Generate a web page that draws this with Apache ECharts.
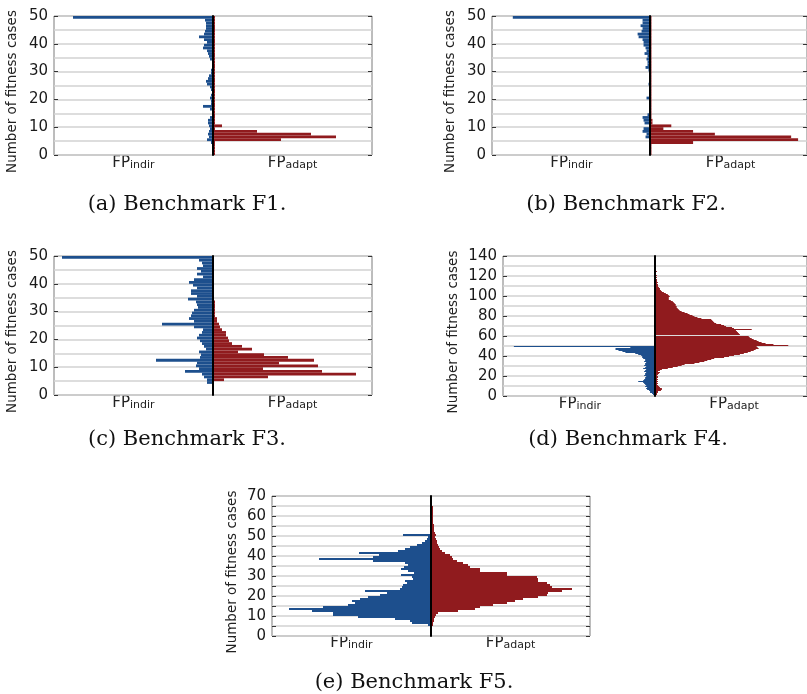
<!DOCTYPE html>
<html>
<head>
<meta charset="utf-8">
<script src="https://cdn.jsdelivr.net/npm/echarts@6/dist/echarts.min.js"></script>
<style>
body{margin:0;background:#fff;}
#main{width:807px;height:694px;}
</style>
</head>
<body>
<div id="main"></div>
<script>
//---------bar lengths per bin (bin k = [k, k+1]), FP_indir left / FP_adapt right-------
var indirF1 = [0,0,0,0,2,6,4,5,4,3, 4,5,5,3,1,0,3,10,2,2, 3,2,0,2,3,6,7,5,4,2, 2,0,1,0,3,4,5,6,10,9, 6,9,14,9,8,7,7,7,8,140];
var adaptF1 = [2,2,2,2,2,68,123,98,44,2, 9,2,2,2,2,2,2,2,2,2, 2,2,2,2,2,2,2,2,2,2, 2,2,2,2,2,2,2,2,2,2, 2,2,2,2,2,2,2,2,2,2];

var indirF2 = [0,0,0,0,0,0,4,3,7,6, 0,5,6,7,2,0,0,0,0,0, 3,0,0,0,0,1,0,0,0,0, 1,4,2,2,3,2,5,3,4,6, 6,7,11,12,8,7,9,7,7,138];
var adaptF2 = [2,2,2,2,44,150,143,66,44,14, 22,3,3,2,2,2,2,2,2,2, 2,2,2,2,2,2,2,2,2,2, 2,2,2,2,2,2,2,2,2,2, 2,2,2,2,2,2,2,2,2,2];

var indirF3 = [0,0,0,0,6,6,9,11,28,14, 17,16,57,13,12,14,7,9,11,13, 16,14,11,10,19,51,19,24,22,21, 19,15,16,17,25,16,22,22,16,20, 24,19,10,16,12,16,10,11,14,151];
var adaptF3 = [1,1,1,1,1,11,55,143,109,50, 105,66,101,75,51,25,39,29,19,16, 15,13,13,9,7,6,4,4,2,2, 2,2,2,2,1,1,1,1,1,1, 1,1,1,1,1,1,1,1,1,1];

var indirF4 = [1,2,3,5,5,6,8,9,8,10, 9,10,11,12,17,12,11,10,10,9, 11,10,10,9,11,10,9,12,10,9, 11,10,10,9,11,10,10,12,13,13, 14,17,20,30,33,37,40,40,25,143];
var adaptF4 = [1,2,2,3,3,6,7,7,5,4, 3,2,3,2,3,2,3,2,3,3, 2,3,4,5,3,5,7,13,18,23,
  27,30,40,45,50,53,57,60,70,75, 80,86,90,94,97,100,102,105,104,103,
  135,120,112,108,105,103,100,98,96,95, 0,86,85,84,83,82,98,80,78,72,
  70,67,62,60,59,58,57,47,43,40, 38,35,33,30,27,25,24,23,22,22,
  21,21,20,19,18,16,14,14,14,15, 14,13,11,9,7,6,5,5,4,3,
  3,3,2,3,2,2,2,1,2,1, 2,1,1,1,2,1,1,1,1,1, 0,0,0,0,0,0,0,0,0,0];

var indirF5 = [0,0,0,0,0,3,19,21,36,73, 98,98,119,142,108,83,76,79,71,63, 51,44,66,31,29,28,24,26,18,19,
  30,17,23,30,27,23,26,58,112,58, 52,72,33,26,21,14,9,6,4,3, 28,0,0,0,0,0,0,0,0,0, 0,0,0,0,0,0,0,0,0,0];
var adaptF5 = [1,1,1,1,1,2,2,3,3,4, 5,7,27,44,49,62,76,84,92,107, 116,117,131,141,121,119,116,107,107,106,
  76,76,49,49,39,37,32,26,22,21, 19,14,11,9,8,7,6,6,5,4, 5,4,3,3,3,3,2,2,2,2, 2,2,2,2,2,1,1,1,1,1];

var indirData = [indirF1, indirF2, indirF3, indirF4, indirF5];
var adaptData = [adaptF1, adaptF2, adaptF3, adaptF4, adaptF5];
var yMaxes = [50, 50, 50, 140, 70];
var yLabelSteps = [10, 10, 10, 20, 10];
var captions = ['(a) Benchmark F1.', '(b) Benchmark F2.', '(c) Benchmark F3.', '(d) Benchmark F4.', '(e) Benchmark F5.'];

//---------panel placement-------
var layout = [
	{left: 54,  top: 16,  half: 159, h: 139, nameGap: 35, capX: 187, capY: 205, fpY: 157, minor: false},
	{left: 492, top: 16,  half: 159, h: 139, nameGap: 35, capX: 626, capY: 205, fpY: 157, minor: false},
	{left: 54,  top: 256, half: 159, h: 139, nameGap: 35, capX: 187, capY: 440, fpY: 397, minor: false},
	{left: 503, top: 256, half: 154, h: 140, nameGap: 43, capX: 628, capY: 440, fpY: 398, minor: false},
	{left: 272, top: 496, half: 159, h: 140, nameGap: 33, capX: 414, capY: 683, fpY: 637, minor: true}
];

var blueColor = '#1d4f8d';
var redColor = '#901b1e';
var gridColor = '#d2d2d2';
var sans = 'DejaVu Sans';

var grids = [], xAxes = [], yAxes = [], series = [], graphics = [];

function fpLabel(x, y, sub){
	return {
		type: 'text', x: x, y: y, silent: true,
		style: {
			text: '{m|FP}{s|' + sub + '}',
			align: 'center', verticalAlign: 'top', fill: '#222',
			rich: {
				m: {fontSize: 15, fontFamily: sans, lineHeight: 16, padding: [0, 0, 3, 0], color: '#222'},
				s: {fontSize: 11, fontFamily: sans, lineHeight: 12, color: '#222'}
			}
		}
	};
}

for (var i = 0; i < layout.length; i++) {
	var L = layout[i];
	var ymax = yMaxes[i];
	var bins = [];
	for (var k = 0; k < ymax; k++) bins.push(String(k));

	grids.push({
		left: L.left, top: L.top, width: 2 * L.half, height: L.h,
		show: true, borderColor: '#7a7a7a', borderWidth: 1, backgroundColor: 'transparent'
	});
	xAxes.push({
		gridIndex: i, type: 'value', min: -L.half, max: L.half,
		axisLine: {show: false}, axisTick: {show: false},
		axisLabel: {show: false}, splitLine: {show: false}
	});
	// left value axis: labels, grid lines
	yAxes.push({
		gridIndex: i, type: 'value', position: 'left',
		min: 0, max: ymax, interval: yLabelSteps[i],
		axisLine: {show: false, onZero: false},
		axisTick: {show: true, inside: true, length: 4, lineStyle: {color: '#333'}},
		minorTick: {show: L.minor, splitNumber: 2, length: 4, lineStyle: {color: '#333'}},
		axisLabel: {fontSize: 15, fontFamily: sans, color: '#1a1a1a', margin: 6},
		splitLine: {show: true, lineStyle: {color: gridColor, width: 1.5}},
		minorSplitLine: {show: true, lineStyle: {color: gridColor, width: 1.5}},
		name: 'Number of fitness cases', nameLocation: 'middle', nameGap: L.nameGap,
		nameTextStyle: {fontSize: 13.5, fontFamily: sans, color: '#222', padding: [0, 12, 0, 0]}
	});
	// right value axis: ticks only
	yAxes.push({
		gridIndex: i, type: 'value', position: 'right',
		min: 0, max: ymax, interval: yLabelSteps[i],
		axisLine: {show: false, onZero: false},
		axisTick: {show: true, inside: true, length: 4, lineStyle: {color: '#333'}},
		minorTick: {show: L.minor, splitNumber: 2, length: 4, lineStyle: {color: '#333'}},
		axisLabel: {show: false}, splitLine: {show: false}
	});
	// category axis for the bins, its line is the black centre line
	yAxes.push({
		gridIndex: i, type: 'category', data: bins, z: 10,
		axisLine: {show: true, onZero: true, lineStyle: {color: '#000', width: 2}},
		axisTick: {show: false}, axisLabel: {show: false}, splitLine: {show: false}
	});

	series.push({
		name: 'FPindir', type: 'bar', xAxisIndex: i, yAxisIndex: 3 * i + 2,
		stack: 'p' + i, barCategoryGap: '0%',
		data: indirData[i].map(function(v){ return -v; }),
		itemStyle: {color: blueColor}, silent: true
	});
	series.push({
		name: 'FPadapt', type: 'bar', xAxisIndex: i, yAxisIndex: 3 * i + 2,
		stack: 'p' + i, barCategoryGap: '0%',
		data: adaptData[i],
		itemStyle: {color: redColor}, silent: true
	});

	graphics.push(fpLabel(L.left + L.half / 2, L.fpY, 'indir'));
	graphics.push(fpLabel(L.left + 1.5 * L.half, L.fpY, 'adapt'));
	graphics.push({
		type: 'text', x: L.capX, y: L.capY, silent: true,
		style: {text: captions[i], font: '21px "DejaVu Serif"', fill: '#111', align: 'center', verticalAlign: 'middle'}
	});
}

option = {
	backgroundColor: '#fff',
	animation: false,
	grid: grids,
	xAxis: xAxes,
	yAxis: yAxes,
	series: series,
	graphic: graphics
};
var myChart = echarts.init(document.getElementById('main'));
myChart.setOption(option);
</script>
</body>
</html>
